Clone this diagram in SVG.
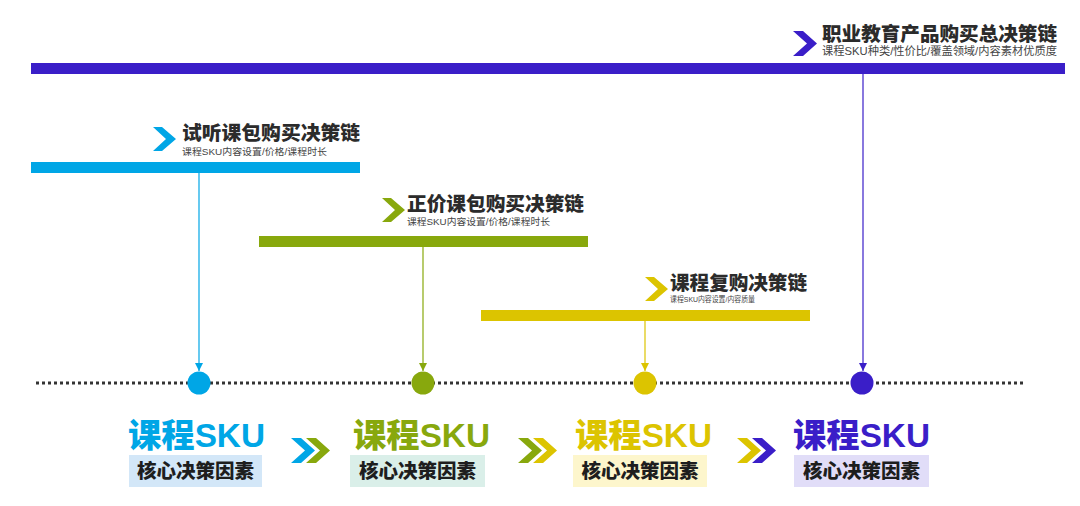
<svg xmlns="http://www.w3.org/2000/svg" width="1080" height="506" viewBox="0 0 1080 506">
<defs>
<style>
.t{font-family:"Liberation Sans","Noto Sans CJK SC",sans-serif;font-weight:900;fill:#2b2b2b}
.s{font-family:"Liberation Sans","Noto Sans CJK SC",sans-serif;fill:#444}
.big{font-family:"Liberation Sans","Noto Sans CJK SC",sans-serif;font-weight:900;font-size:33px}
.lab{font-family:"Noto Sans CJK SC",sans-serif;font-weight:900;font-size:19.5px;fill:#1e1e1e}
.dots{stroke:#333;stroke-width:3;stroke-dasharray:3 3}
</style>
<marker id="aB" viewBox="0 0 10 10" refX="10" refY="5" markerWidth="8" markerHeight="8" markerUnits="userSpaceOnUse" orient="auto"><path d="M0,0L10,5L0,10z" fill="#00a6e6"/></marker>
<marker id="aG" viewBox="0 0 10 10" refX="10" refY="5" markerWidth="8" markerHeight="8" markerUnits="userSpaceOnUse" orient="auto"><path d="M0,0L10,5L0,10z" fill="#88a80d"/></marker>
<marker id="aY" viewBox="0 0 10 10" refX="10" refY="5" markerWidth="8" markerHeight="8" markerUnits="userSpaceOnUse" orient="auto"><path d="M0,0L10,5L0,10z" fill="#dcc400"/></marker>
<marker id="aP" viewBox="0 0 10 10" refX="10" refY="5" markerWidth="8" markerHeight="8" markerUnits="userSpaceOnUse" orient="auto"><path d="M0,0L10,5L0,10z" fill="#3a1ec8"/></marker>
<path id="chev" d="M0,0H10L24,12.5L10,25H0L14,12.5Z"/>
</defs>
<rect width="1080" height="506" fill="#fff"/>

<line class="dots" x1="36" y1="383" x2="1024" y2="383"/>

<g id="chain-total">
<rect x="31" y="63" width="1034" height="11" fill="#3a1ec8"/>
<use href="#chev" x="793" y="31" fill="#3a1ec8"/>
<text class="t" x="822" y="41" font-size="19.5" textLength="235" lengthAdjust="spacingAndGlyphs">职业教育产品购买总决策链</text>
<text class="s" x="822" y="55" font-size="11.5" textLength="235" lengthAdjust="spacingAndGlyphs">课程SKU种类/性价比/覆盖领域/内容素材优质度</text>
</g>

<g id="chain-trial">
<rect x="31" y="162" width="329" height="11" fill="#00a6e6"/>
<path d="M153,127H162L176,139L162,151H153L166,139Z" fill="#00a6e6"/>
<text class="t" x="182" y="140" font-size="19.5" textLength="178" lengthAdjust="spacingAndGlyphs">试听课包购买决策链</text>
<text class="s" x="182" y="155" font-size="9.5" textLength="145" lengthAdjust="spacingAndGlyphs">课程SKU内容设置/价格/课程时长</text>
</g>

<g id="chain-full">
<rect x="259" y="236" width="329" height="11" fill="#88a80d"/>
<path d="M382,198H391L405,210L391,222H382L395,210Z" fill="#88a80d"/>
<text class="t" x="407" y="211" font-size="19.5" textLength="177" lengthAdjust="spacingAndGlyphs">正价课包购买决策链</text>
<text class="s" x="407" y="225" font-size="9.5" textLength="143" lengthAdjust="spacingAndGlyphs">课程SKU内容设置/价格/课程时长</text>
</g>

<g id="chain-repurchase">
<rect x="481" y="310" width="329" height="11" fill="#dcc400"/>
<path d="M645,277H654L668,289L654,301H645L658,289Z" fill="#dcc400"/>
<text class="t" x="670" y="290" font-size="19.5" textLength="137" lengthAdjust="spacingAndGlyphs">课程复购决策链</text>
<text class="s" x="670" y="302" font-size="7.5" textLength="85" lengthAdjust="spacingAndGlyphs">课程SKU内容设置/内容质量</text>
</g>

<g id="connectors" fill="none" stroke-width="1.2">
<line x1="199" y1="173" x2="199" y2="371" stroke="#00a6e6" marker-end="url(#aB)"/>
<line x1="423" y1="247" x2="423" y2="371" stroke="#88a80d" marker-end="url(#aG)"/>
<line x1="645" y1="321" x2="645" y2="371" stroke="#dcc400" marker-end="url(#aY)"/>
<line x1="863" y1="74" x2="863" y2="371" stroke="#3a1ec8" marker-end="url(#aP)"/>
</g>

<g id="sku-blue">
<circle cx="199" cy="383" r="11.5" fill="#00a6e6"/>
<text class="big" x="128" y="447" fill="#00a6e6" textLength="137" lengthAdjust="spacingAndGlyphs">课程SKU</text>
<rect x="129" y="455" width="133" height="32" fill="#d3e7f8"/>
<text class="lab" x="195.5" y="478" text-anchor="middle">核心决策因素</text>
</g>

<g id="sku-green">
<circle cx="423" cy="383" r="11.5" fill="#88a80d"/>
<text class="big" x="353" y="447" fill="#88a80d" textLength="137" lengthAdjust="spacingAndGlyphs">课程SKU</text>
<rect x="350" y="455" width="135" height="32" fill="#daefe9"/>
<text class="lab" x="417.5" y="478" text-anchor="middle">核心决策因素</text>
</g>

<g id="sku-yellow">
<circle cx="645" cy="383" r="11.5" fill="#dcc400"/>
<text class="big" x="575" y="447" fill="#dcc400" textLength="137" lengthAdjust="spacingAndGlyphs">课程SKU</text>
<rect x="573" y="455" width="134" height="32" fill="#fdf6cc"/>
<text class="lab" x="640" y="478" text-anchor="middle">核心决策因素</text>
</g>

<g id="sku-purple">
<circle cx="862" cy="383" r="11.5" fill="#3a1ec8"/>
<text class="big" x="793" y="447" fill="#3a1ec8" textLength="137" lengthAdjust="spacingAndGlyphs">课程SKU</text>
<rect x="794" y="455" width="135" height="32" fill="#e1ddf8"/>
<text class="lab" x="861.5" y="478" text-anchor="middle">核心决策因素</text>
</g>

<g id="chevrons">
<use href="#chev" x="291" y="438" fill="#00a6e6"/>
<use href="#chev" x="306" y="438" fill="#88a80d"/>
<use href="#chev" x="518" y="438" fill="#88a80d"/>
<use href="#chev" x="533" y="438" fill="#dcc400"/>
<use href="#chev" x="737" y="438" fill="#dcc400"/>
<use href="#chev" x="752" y="438" fill="#3a1ec8"/>
</g>
</svg>
